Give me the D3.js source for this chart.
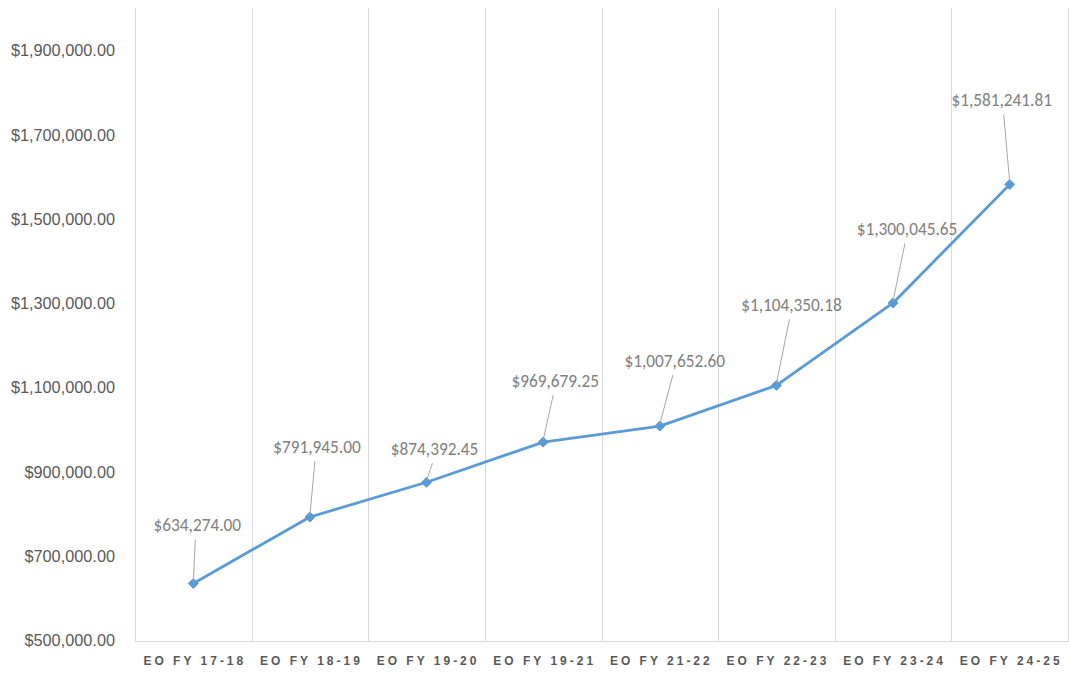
<!DOCTYPE html>
<html><head><meta charset="utf-8">
<script src="https://cdn.jsdelivr.net/npm/d3@7"></script>
<style>
html,body{margin:0;padding:0;background:#fff;}
svg{display:block;font-family:Carlito,Calibri,"Liberation Sans",Arial,sans-serif;}
</style></head>
<body><svg id="chart" width="1070" height="677"></svg>
<script>
const categories = ["EO FY 17-18","EO FY 18-19","EO FY 19-20","EO FY 19-21","EO FY 21-22","EO FY 22-23","EO FY 23-24","EO FY 24-25"];
const values = [634274.00, 791945.00, 874392.45, 969679.25, 1007652.60, 1104350.18, 1300045.65, 1581241.81];
const yTicks = [500000, 700000, 900000, 1100000, 1300000, 1500000, 1700000, 1900000];
// label placement (pixel offsets from each point) — layout only
const labelOffsets = [[4,-58],[7,-70],[8,-33],[12,-61],[15,-65],[15,-80],[14,-74],[-8,-84]];

(function(){
const svg = d3.select("#chart");
const pLeft = 135, pRight = 1068, pTop = 8, pBottom = 641;
const x = d3.scaleBand().domain(categories).range([pLeft, pRight]).padding(0);
const y = d3.scaleLinear().domain([500000, 2000000]).range([640, pTop]);
const money = d3.format("$,.2f");
const grid = "#d9d9d9";

const bounds = categories.map(c => x(c)).concat([x(categories[categories.length-1]) + x.bandwidth()]);
svg.append("g").selectAll("line").data(bounds).join("line")
  .attr("x1", d => Math.round(d)+0.5).attr("x2", d => Math.round(d)+0.5)
  .attr("y1", pTop).attr("y2", pBottom)
  .attr("stroke", grid).attr("stroke-width", 1);
svg.append("line").attr("x1", pLeft).attr("x2", pRight+1).attr("y1", pBottom+0.5).attr("y2", pBottom+0.5)
  .attr("stroke", grid).attr("stroke-width", 1.2);

const yAxis = d3.axisLeft(y).tickValues(yTicks).tickFormat(money).tickSize(0).tickPadding(0);
const yg = svg.append("g").attr("transform", "translate(115,0)").call(yAxis);
yg.select(".domain").remove();
yg.selectAll("text").attr("fill", "#595959").style("font-size", "16.3px").attr("dy", "0.35em");

const xAxis = d3.axisBottom(x).tickSize(0).tickPadding(0);
const xg = svg.append("g").attr("transform", "translate(0,661)").call(xAxis);
xg.select(".domain").remove();
xg.selectAll("text").attr("fill", "#595959").style("font-size", "12px").style("font-weight", "bold")
  .style("letter-spacing", "3px").attr("dx", "1.5px").attr("dy", "0.35em");

const pts = values.map((v,i) => [x(categories[i]) + x.bandwidth()/2, y(v)]);
svg.append("path").datum(pts)
  .attr("d", d3.line())
  .attr("fill", "none").attr("stroke", "#5b9bd5").attr("stroke-width", 2.8)
  .attr("stroke-linejoin", "round");

svg.append("g").selectAll("path").data(pts).join("path")
  .attr("d", d3.symbol(d3.symbolDiamond2, 64))
  .attr("transform", d => `translate(${d[0]},${d[1]})`)
  .attr("fill", "#5b9bd5").attr("stroke", "#5b9bd5").attr("stroke-width", 1);

const lg = svg.append("g");
pts.forEach((p, i) => {
  const [dx, dy] = labelOffsets[i];
  const lx = p[0] + dx, ly = p[1] + dy;
  lg.append("line").attr("x1", lx - (dx>0?2:-2)).attr("y1", ly + 14).attr("x2", p[0]).attr("y2", p[1] - 2)
    .attr("stroke", "#a6a6a6").attr("stroke-width", 1);
  lg.append("text").attr("x", lx).attr("y", ly).attr("dy", "0.35em")
    .attr("text-anchor", "middle").attr("fill", "#808080").style("font-size", "17.3px")
    .text(money(values[i]));
});
})();
</script></body></html>
